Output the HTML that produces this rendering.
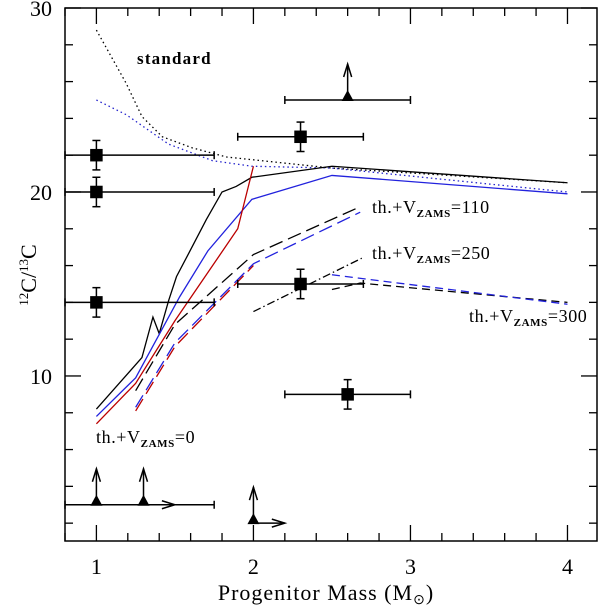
<!DOCTYPE html>
<html><head><meta charset="utf-8"><style>
body{margin:0;background:#fff}
svg text{font-family:"Liberation Serif",serif;fill:#000}
</style></head><body>
<svg id="chart" width="600" height="608" xmlns="http://www.w3.org/2000/svg"></svg>
<script>
const xTicksMajor=[1,2,3,4];
const yTicksMajor=[10,20,30];
const stdBlackX=[1.0,1.19,1.29,1.42,1.61,1.83,2.5,4.0];
const stdBlackY=[28.8,25.9,24.1,23.0,22.4,21.9,21.3,20.5];
const stdBlueX=[1.0,1.19,1.46,1.74,1.99,2.5,4.0];
const stdBlueY=[25.0,24.2,22.6,21.7,21.4,21.3,20.0];
const th0BlackX=[1.0,1.29,1.36,1.4,1.46,1.51,1.59,1.70,1.80,1.89,1.99,2.5,4.0];
const th0BlackY=[8.2,11.0,13.2,12.3,14.1,15.4,16.7,18.5,20.0,20.3,20.8,21.4,20.5];
const th0BlueX=[1.0,1.25,1.53,1.71,1.99,2.5,4.0];
const th0BlueY=[7.8,9.9,14.3,16.8,19.6,20.9,19.9];
const th0RedX=[1.0,1.25,1.5,1.9,2.0];
const th0RedY=[7.4,9.6,13.0,18.0,21.4];
const th110BlackX=[1.25,1.5,2.0,2.68];
const th110BlackY=[9.2,12.8,16.6,19.2];
const th110BlueX=[1.25,1.5,2.0,2.68];
const th110BlueY=[8.3,11.8,16.1,18.9];
const th110RedX=[1.25,1.5,2.0];
const th110RedY=[8.1,11.6,16.0];
const th250X=[2.0,2.69];
const th250Y=[13.5,16.4];
const th300BlackX=[2.5,2.68,4.0];
const th300BlackY=[14.7,15.05,14.0];
const th300BlueX=[2.5,4.0];
const th300BlueY=[15.5,13.9];
const sqX=[1,1,1,2.3,2.3,2.6];
const sqY=[22,20,14,23,15,9];
const sqXlo=[0.8,0.8,0.8,1.9,1.9,2.2];
const sqXhi=[1.75,1.75,1.75,2.7,2.7,3.0];
const sqYerr=[0.8,0.8,0.8,0.8,0.8,0.8];
const triX=[2.6,1.0,1.3,2.0];
const triY=[25,3,3,2];
const triRightArrow=[0,0,1,1];
const triXlo=[2.2,0.8,null,null];
const triXhi=[3.0,1.75,null,null];

const L=65,R=597,T=8,B=541,X0=0.8,X1=4.188,Y0=1.03,Y1=30;
const sx=v=>L+(v-X0)/(X1-X0)*(R-L);
const sy=v=>B-(v-Y0)/(Y1-Y0)*(B-T);
const svg=document.getElementById('chart');
const NS='http://www.w3.org/2000/svg';
function mk(tag,at,parent){const e=document.createElementNS(NS,tag);for(const k in at)e.setAttribute(k,at[k]);(parent||svg).appendChild(e);return e;}
function line(xs,ys,color,dash,name,w){
 const p=mk('polyline',{points:xs.map((x,i)=>sx(x)+','+sy(ys[i])).join(' '),fill:'none',stroke:color,'stroke-width':w||1.3,'stroke-dasharray':dash||'none'});
 
 
}
const fr=mk('rect',{x:L,y:T,width:R-L,height:B-T,fill:'none',stroke:'#000','stroke-width':1.5});


for(let v=0.8;v<=4.15;v+=0.2){const m=Math.abs(v-Math.round(v))<0.01;const len=m?16:8;const x=sx(v);
 mk('line',{x1:x,x2:x,y1:B,y2:B-len,stroke:'#000','stroke-width':1.3});mk('line',{x1:x,x2:x,y1:T,y2:T+len,stroke:'#000','stroke-width':1.3});}
for(let v=2;v<=30;v+=2){const m=v%10===0;const len=m?16:8;const y=sy(v);
 mk('line',{x1:L,x2:L+len,y1:y,y2:y,stroke:'#000','stroke-width':1.3});mk('line',{x1:R,x2:R-len,y1:y,y2:y,stroke:'#000','stroke-width':1.3});}
xTicksMajor.forEach(v=>{const t=mk('text',{x:sx(v),y:574,'font-size':22,'text-anchor':'middle'});t.textContent=v;
 
 });
yTicksMajor.forEach(v=>{const t=mk('text',{x:52,y:sy(v)+8,'font-size':22,'text-anchor':'end'});t.textContent=v;
 
 });
line(stdBlackX,stdBlackY,'#000','1.5 3','standard-black-dotted');
line(stdBlueX,stdBlueY,'#22c','1.5 3','standard-blue-dotted');
line(th0BlackX,th0BlackY,'#000',null,'th0-black-line');
line(th0BlueX,th0BlueY,'#22d',null,'th0-blue-line');
line(th0RedX,th0RedY,'#b00',null,'th0-red-line');
line(th110RedX,th110RedY,'#b00','14 6','th110-red-dashed');
line(th110BlackX,th110BlackY,'#000','14 6','th110-black-dashed');
line(th110BlueX,th110BlueY,'#22d','14 6','th110-blue-dashed');
line(th250X,th250Y,'#000','8 3 1.5 3','th250-dashdot');
line(th300BlackX,th300BlackY,'#000','8 5','th300-black-dashed');
line(th300BlueX,th300BlueY,'#22d','8 5','th300-blue-dashed');
sqX.forEach((x,i)=>{const g=mk('g',{stroke:'#000','stroke-width':1.5});
 
 
 const cx=sx(x),cy=sy(sqY[i]),x1=sx(sqXlo[i]),x2=sx(sqXhi[i]),y1=sy(sqY[i]+sqYerr[i]),y2=sy(sqY[i]-sqYerr[i]);
 mk('line',{x1:x1,x2:x2,y1:cy,y2:cy},g);mk('line',{x1:x1,x2:x1,y1:cy-4,y2:cy+4},g);mk('line',{x1:x2,x2:x2,y1:cy-4,y2:cy+4},g);
 mk('line',{x1:cx,x2:cx,y1:y1,y2:y2},g);mk('line',{x1:cx-4,x2:cx+4,y1:y1,y2:y1},g);mk('line',{x1:cx-4,x2:cx+4,y1:y2,y2:y2},g);
 mk('rect',{x:cx-5.5,y:cy-5.5,width:11,height:11,fill:'#000'},g);});
triX.forEach((x,i)=>{const g=mk('g',{stroke:'#000','stroke-width':1.5,fill:'none'});
 
 
 const cx=sx(x),cy=sy(triY[i]);
 if(triXlo[i]!==null){const x1=sx(triXlo[i]),x2=sx(triXhi[i]);mk('line',{x1:x1,x2:x2,y1:cy,y2:cy},g);mk('line',{x1:x1,x2:x1,y1:cy-4,y2:cy+4},g);mk('line',{x1:x2,x2:x2,y1:cy-4,y2:cy+4},g);}
 const top=cy-36;mk('line',{x1:cx,x2:cx,y1:cy,y2:top},g);mk('polyline',{points:`${cx-4},${top+13} ${cx},${top} ${cx+4},${top+13}`},g);
 if(triRightArrow[i]){const xe=sx(x+0.2);mk('line',{x1:cx,x2:xe,y1:cy,y2:cy},g);mk('polyline',{points:`${xe-13},${cy-4} ${xe},${cy} ${xe-13},${cy+4}`},g);}
 mk('polygon',{points:`${cx-6},${cy+1} ${cx+6},${cy+1} ${cx},${cy-10}`,fill:'#000',stroke:'none'},g);});
</script>
<svg width="600" height="608" style="position:absolute;left:0;top:0" xmlns="http://www.w3.org/2000/svg" font-family="Liberation Serif, serif">
<text x="137" y="64" font-size="17" font-weight="bold" letter-spacing="1.2">standard</text>
<text x="96" y="443" font-size="18" letter-spacing="0.6">th.+V<tspan font-size="11" font-weight="bold" dy="4">ZAMS</tspan><tspan dy="-4">=0</tspan></text>
<text x="372" y="213" font-size="18" letter-spacing="0.6">th.+V<tspan font-size="11" font-weight="bold" dy="4">ZAMS</tspan><tspan dy="-4">=110</tspan></text>
<text x="372" y="259" font-size="18" letter-spacing="0.6">th.+V<tspan font-size="11" font-weight="bold" dy="4">ZAMS</tspan><tspan dy="-4">=250</tspan></text>
<text x="469" y="322" font-size="18" letter-spacing="0.6">th.+V<tspan font-size="11" font-weight="bold" dy="4">ZAMS</tspan><tspan dy="-4">=300</tspan></text>
<text x="326" y="600" font-size="22" text-anchor="middle" letter-spacing="1">Progenitor Mass (M<tspan font-size="14" dy="4">⊙</tspan><tspan dy="-4">)</tspan></text>
<text transform="translate(36,275) rotate(-90)" font-size="22" text-anchor="middle"><tspan font-size="13" dy="-8">12</tspan><tspan dy="8">C/</tspan><tspan font-size="13" dy="-8">13</tspan><tspan dy="8">C</tspan></text>
</svg>
</body></html>
